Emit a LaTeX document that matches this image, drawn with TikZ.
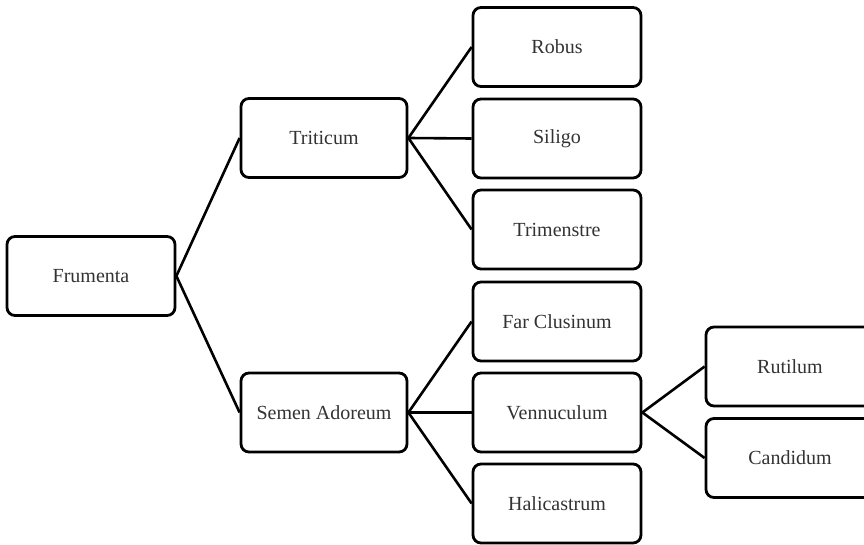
\documentclass[tikz,border=0pt]{standalone}
\usepackage{fontspec}
\setmainfont{Liberation Serif}
\begin{document}
\begin{tikzpicture}[x=1pt,y=-1pt,
  box/.style={draw=black, line width=2.8pt, rounded corners=8pt, fill=white,
    minimum width=168pt, minimum height=79pt, inner sep=0pt,
    font=\fontsize{20}{23}\selectfont, text=black!80},
  link/.style={draw=black, line width=2.6pt}]
\useasboundingbox (0,0) rectangle (864,545);
\clip (0,0) rectangle (864,545);
\node[box] (fru) at (91,276) {Frumenta};
\node[box, minimum width=166pt] (tri) at (324,138) {Triticum};
\node[box, minimum width=166pt] (sem) at (324,412.5) {Semen Adoreum};
\node[box] (rob) at (557,47) {Robus};
\node[box] (sil) at (557,138.5) {Siligo};
\node[box] (trm) at (557,229.5) {Trimenstre};
\node[box] (far) at (557,321.5) {Far Clusinum};
\node[box] (ven) at (557,412.5) {Vennuculum};
\node[box] (hal) at (557,503.5) {Halicastrum};
\node[box] (rut) at (790,366.5) {Rutilum};
\node[box] (can) at (790,458) {Candidum};
\draw[link] (fru.east) -- (tri.west);
\draw[link] (fru.east) -- (sem.west);
\draw[link] (tri.east) -- (rob.west);
\draw[link] (tri.east) -- (sil.west);
\draw[link] (tri.east) -- (trm.west);
\draw[link] (sem.east) -- (far.west);
\draw[link] (sem.east) -- (ven.west);
\draw[link] (sem.east) -- (hal.west);
\draw[link] (ven.east) -- (rut.west);
\draw[link] (ven.east) -- (can.west);
\end{tikzpicture}
\end{document}
